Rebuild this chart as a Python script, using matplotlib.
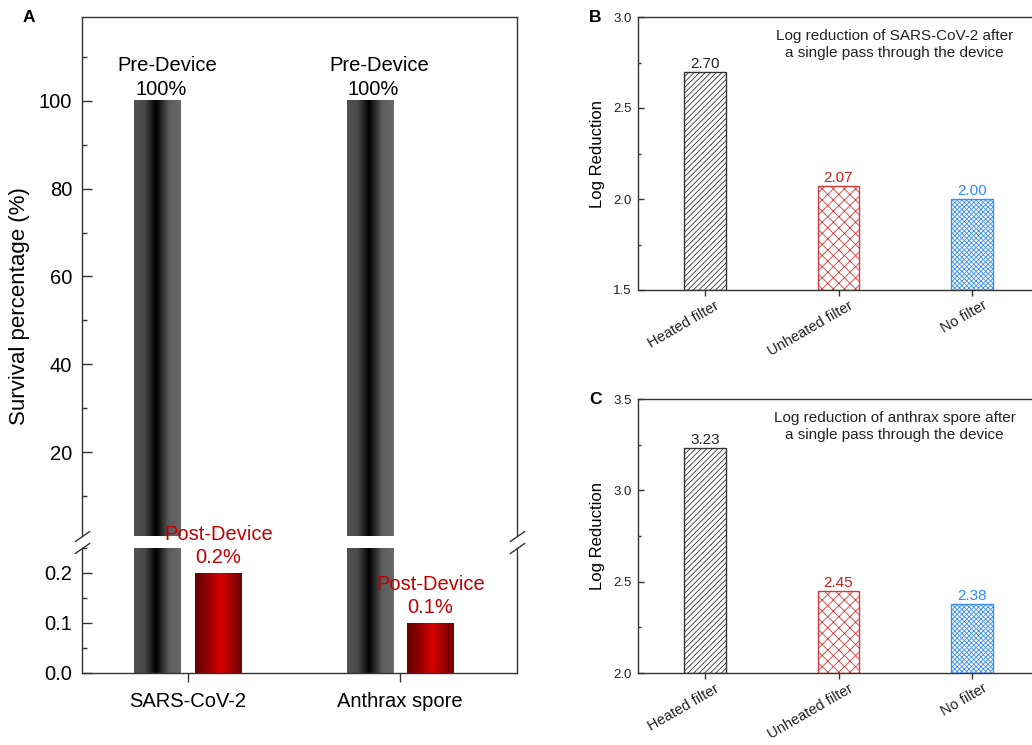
import numpy as np
import matplotlib
matplotlib.use('Agg')
import matplotlib.pyplot as plt
from matplotlib.colors import LinearSegmentedColormap
from matplotlib.ticker import MultipleLocator
from matplotlib import transforms

plt.rcParams['font.family'] = ['Liberation Sans', 'DejaVu Sans']
plt.rcParams['hatch.linewidth'] = 0.6
plt.rcParams['axes.linewidth'] = 1.0
plt.rcParams['axes.edgecolor'] = '#333333'

# ---- data ----
organisms = ['SARS-CoV-2', 'Anthrax spore']
pre_device = [100, 100]
post_device = [0.2, 0.1]
pre_labels = ['100%', '100%']
post_labels = ['0.2%', '0.1%']

filters = ['Heated filter', 'Unheated filter', 'No filter']
log_red_sars = [2.70, 2.07, 2.00]
log_red_anthrax = [3.23, 2.45, 2.38]

W, H = 1032, 745
fig = plt.figure(figsize=(W / 100, H / 100), dpi=100)


def px_axes(left, top, right, bottom):
    return fig.add_axes([left / W, 1 - bottom / H, (right - left) / W, (bottom - top) / H])


gray_cmap = LinearSegmentedColormap.from_list(
    'gray_bar', [(0, '#505050'), (0.22, '#4a4a4a'), (0.47, '#000000'),
                 (0.75, '#5c5c5c'), (1, '#6a6a6a')])
red_cmap = LinearSegmentedColormap.from_list(
    'red_bar', [(0, '#660000'), (0.18, '#800000'), (0.55, '#d60000'),
                (0.85, '#8c0000'), (1, '#700000')])
grad = np.linspace(0, 1, 256).reshape(1, -1)


def shade(ax, bars, cmap):
    # fill each bar rectangle with a horizontal gradient (clipped by the axes)
    for b in bars:
        x, y = b.get_x(), b.get_y()
        ax.imshow(grad, cmap=cmap, aspect='auto', interpolation='bilinear',
                  extent=[x, x + b.get_width(), y, y + b.get_height()], zorder=2)


# ---- panel A (broken y axis) ----
ax_top = px_axes(82, 17, 517, 536)
ax_bot = px_axes(82, 548, 517, 673)
xpos = np.arange(1, len(organisms) + 1)
bw, off = 0.22, 0.143

for ax in (ax_top, ax_bot):
    ax.set_facecolor('none')
    pre = ax.bar(xpos - off, pre_device, bw, color='none', edgecolor='none')
    post = ax.bar(xpos + off, post_device, bw, color='none', edgecolor='none')
    shade(ax, pre, gray_cmap)
    shade(ax, post, red_cmap)
    ax.set_xlim(0.5, 2.55)
    ax.tick_params(axis='y', which='major', direction='in', length=7.2, width=1,
                   labelsize=14.5, pad=7, colors='#333333', labelcolor='black')
    ax.tick_params(axis='y', which='minor', direction='in', length=3.6, width=1,
                   colors='#333333')

ax_top.set_ylim(1, 119)
ax_top.set_yticks([20, 40, 60, 80, 100])
ax_top.yaxis.set_minor_locator(MultipleLocator(10))
ax_top.spines['bottom'].set_visible(False)
ax_top.tick_params(axis='x', bottom=False, labelbottom=False)

ax_bot.set_ylim(0, 0.25)
ax_bot.set_yticks([0.0, 0.1, 0.2])
ax_bot.yaxis.set_minor_locator(MultipleLocator(0.05))
ax_bot.spines['top'].set_visible(False)
ax_bot.set_xticks(xpos)
ax_bot.set_xticklabels(organisms)
ax_bot.tick_params(axis='x', direction='out', length=6.5, width=1, labelsize=14.5,
                   pad=7, colors='#333333', labelcolor='black')

for i, x in enumerate(xpos):
    ax_top.text(x - off + 0.045, pre_device[i] + 5.8, 'Pre-Device', ha='center',
                va='bottom', fontsize=14.5, zorder=5)
    ax_top.text(x - off + 0.017, pre_device[i] + 0.4, pre_labels[i], ha='center',
                va='bottom', fontsize=14.5, zorder=5)
    ax_bot.text(x + off, post_device[i] + 0.012, 'Post-Device\n' + post_labels[i],
                ha='center', va='bottom', fontsize=14.5, color='#c00000',
                linespacing=1.25, clip_on=False, zorder=5)

brk = dict(marker=[(-1, -0.7), (1, 0.7)], markersize=11, linestyle='none',
           color='#333333', mec='#333333', mew=1, clip_on=False)
ax_top.plot([0, 1], [0, 0], transform=ax_top.transAxes, **brk)
ax_bot.plot([0, 1], [1, 1], transform=ax_bot.transAxes, **brk)

fig.text(20 / W, 1 - 306 / H, 'Survival percentage (%)', rotation=90,
         ha='center', va='center', fontsize=16)
fig.text(29 / W, 1 - 17 / H, 'A', fontsize=12.5, fontweight='bold',
         ha='center', va='center')

# ---- panels B and C ----
bar_styles = [dict(edgecolor='#333333', hatch='//////'),
              dict(edgecolor='#d03a3a', hatch='xxx'),
              dict(edgecolor='#3a8ef5', hatch='xxxxxxx')]
value_colors = ['#222222', '#c81e1e', '#2a8af0']


def log_panel(ax, values, ylim, note, letter):
    xs = np.arange(1, len(filters) + 1)
    bars = ax.bar(xs, [v - ylim[0] for v in values], 0.31, bottom=ylim[0],
                  color='white', linewidth=1.0)
    for b, st in zip(bars, bar_styles):
        b.set_edgecolor(st['edgecolor'])
        b.set_hatch(st['hatch'])
    for x, v, c in zip(xs, values, value_colors):
        ax.text(x, v + 0.005, '%.2f' % v, ha='center', va='bottom', fontsize=11, color=c)
    ax.set_xlim(0.5, 3.5)
    ax.set_ylim(*ylim)
    ax.yaxis.set_major_locator(MultipleLocator(0.5))
    ax.yaxis.set_minor_locator(MultipleLocator(0.25))
    ax.tick_params(axis='y', which='major', direction='in', length=4, width=1,
                   labelsize=9.5, pad=4.5, colors='#333333', labelcolor='#222222')
    ax.tick_params(axis='y', which='minor', direction='in', length=2.5, width=1,
                   colors='#333333')
    ax.set_xticks(xs)
    ax.set_xticklabels(filters, rotation=30, ha='right', va='top', fontsize=10.5)
    ax.tick_params(axis='x', direction='out', length=4, width=1, pad=2,
                   colors='#333333', labelcolor='#222222')
    shift = transforms.ScaledTranslation(0.17, 0, fig.dpi_scale_trans)
    for lab in ax.get_xticklabels():
        lab.set_transform(lab.get_transform() + shift)
    ax.set_ylabel('Log Reduction', fontsize=12, labelpad=6)
    ax.text(0.64, 0.90, note, transform=ax.transAxes, ha='center', va='center',
            fontsize=11, linespacing=1.25, color='#222222')
    ax.text(-0.107, 1.0, letter, transform=ax.transAxes, ha='center', va='center',
            fontsize=12.5, fontweight='bold')


ax_b = px_axes(638, 17, 1039, 290)
log_panel(ax_b, log_red_sars, (1.5, 3.0),
          'Log reduction of SARS-CoV-2 after\na single pass through the device', 'B')
ax_c = px_axes(638, 399, 1039, 673)
log_panel(ax_c, log_red_anthrax, (2.0, 3.5),
          'Log reduction of anthrax spore after\na single pass through the device', 'C')

fig.savefig('out.png', dpi=100)
